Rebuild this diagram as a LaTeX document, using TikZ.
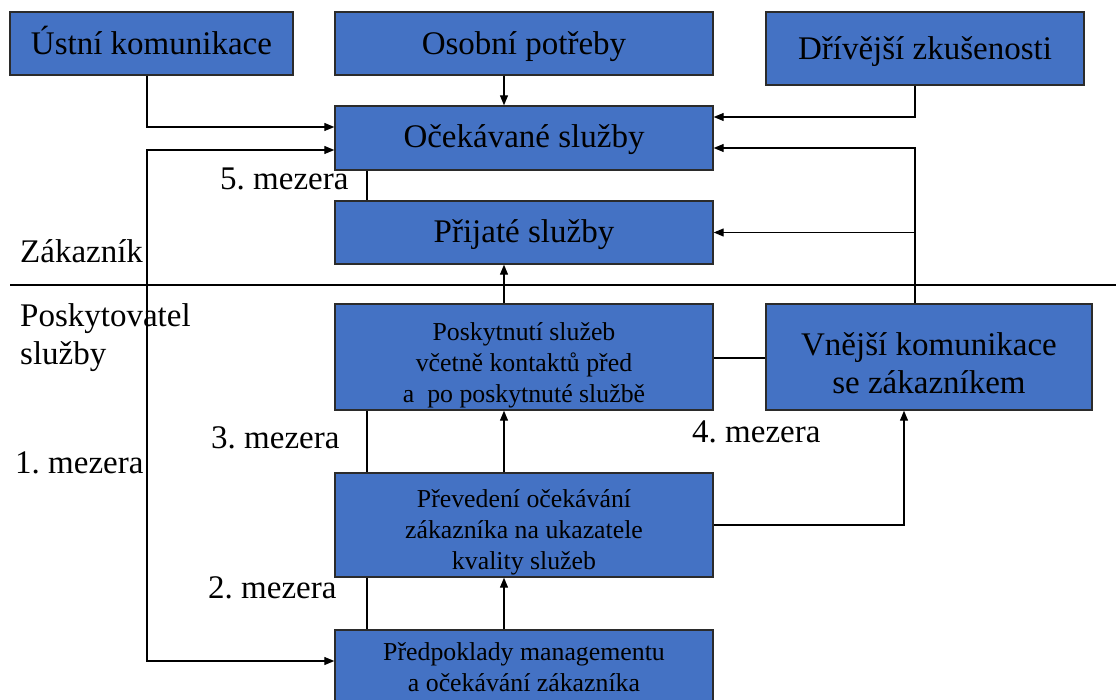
\documentclass[tikz,border=0pt]{standalone}
\usepackage{fontspec}
\setmainfont{Liberation Serif}
\usetikzlibrary{arrows.meta,calc}
\definecolor{boxblue}{HTML}{4472C4}
\definecolor{boxedge}{HTML}{2B2B2B}
\frenchspacing
\begin{document}
\begin{tikzpicture}[x=1pt,y=-1pt,
  box/.style={draw=boxedge,line width=1.4pt,fill=boxblue,inner sep=0pt,align=center,text=black},
  bigtxt/.style={font=\fontsize{33}{38}\selectfont},
  onel/.style={bigtxt,text height=22pt,text depth=0pt},
  smalltxt/.style={font=\fontsize{25.8}{31}\selectfont},
  lbl/.style={font=\fontsize{33}{38}\selectfont,anchor=base west,inner sep=0pt},
  conn/.style={line width=1.2pt,draw=black},
  arr/.style={conn,-{Triangle[length=10pt,width=8pt]}},
  darr/.style={conn,{Triangle[length=10pt,width=8pt]}-{Triangle[length=10pt,width=8pt]}}
]
\useasboundingbox (0,0) rectangle (1116,700);
\clip (0,0) rectangle (1116,700);
\fill[white] (0,0) rectangle (1116,700);

% boxes
\node[box,onel,minimum width=283pt,minimum height=63pt] (ustni) at (151.5,43.5) {Ústní komunikace};
\node[box,onel,minimum width=378pt,minimum height=63pt] (osobni) at (524,43.5) {Osobní potřeby};
\node[box,onel,minimum width=318pt,minimum height=73pt] (drivejsi) at (925,48.5) {Dřívější zkušenosti};
\node[box,onel,text height=20pt,minimum width=378pt,minimum height=64pt] (ocek) at (524,138) {Očekávané služby};
\node[box,onel,text height=21pt,minimum width=378pt,minimum height=63pt] (prij) at (524,232.5) {Přijaté služby};
\node[box,smalltxt,minimum width=378pt,minimum height=106pt] (posk) at (524,357) {\rule{0pt}{34pt}Poskytnutí služeb\\včetně kontaktů před\\a~ po poskytnuté službě};
\node[box,bigtxt,minimum width=326pt,minimum height=106pt] (vnejsi) at (929,357) {\rule{0pt}{36pt}Vnější komunikace\\se zákazníkem};
\node[box,smalltxt,minimum width=378pt,minimum height=104pt] (preved) at (524,525) {\rule{0pt}{33pt}Převedení očekávání\\zákazníka na ukazatele\\kvality služeb};
\node[box,smalltxt,minimum width=378pt,minimum height=74pt] (predp) at (524,667) {Předpoklady managementu\\a očekávání zákazníka};

% separator
\coordinate (sepL) at (10,285);
\coordinate (sepR) at (1116,285);
\draw[conn] (sepL) -- (sepR);

% labels
\node[lbl] (zak) at (20,263) {Zákazník};
\node[lbl] (posk1) at (20,327) {Poskytovatel};
\node[lbl] (posk2) at (20,365) {služby};
\node[lbl] (m5) at (220,190) {5. mezera};
\node[lbl] (m3) at (211,448) {3. mezera};
\node[lbl] (m1) at (15,473) {1. mezera};
\node[lbl] (m2) at (208,598) {2. mezera};
\node[lbl] (m4) at (692,442) {4. mezera};

% connectors top
\draw[arr] ([xshift=-4.5pt]ustni.south) |- ([yshift=11pt]ocek.west);
\draw[arr] ([xshift=-20pt]osobni.south) -- ([xshift=-20pt]ocek.north);
\draw[arr] ([xshift=-10pt]drivejsi.south) |- ([yshift=21pt]ocek.east);
\draw[arr] ([xshift=-14pt]vnejsi.north) |- ([yshift=-10pt]ocek.east);
\draw[arr] ([xshift=-14pt]vnejsi.north) |- (prij.east);

% gap lines
\draw[conn] ([xshift=-157pt]ocek.south) -- ([xshift=-157pt]prij.north);
\draw[conn] ([xshift=-157pt]posk.south) -- ([xshift=-157pt]preved.north);
\draw[conn] ([xshift=-157pt]preved.south) -- ([xshift=-157pt]predp.north);

% vertical flow
\draw[arr] ([xshift=-20pt]posk.north) -- ([xshift=-20pt]prij.south);
\draw[arr] ([xshift=-20pt]preved.north) -- ([xshift=-20pt]posk.south);
\draw[arr] ([xshift=-20pt]predp.north) -- ([xshift=-20pt]preved.south);

% side links
\draw[conn] ([yshift=-1pt]posk.east) -- ([yshift=-1pt]posk.east -| vnejsi.west);
\draw[arr] (preved.east) -| ([xshift=-25pt]vnejsi.south);

% long left line
\coordinate (lft) at (147,400);
\draw[darr] ([yshift=-12pt]ocek.west) -| (lft) |- ([yshift=6pt]predp.west);
\end{tikzpicture}
\end{document}
